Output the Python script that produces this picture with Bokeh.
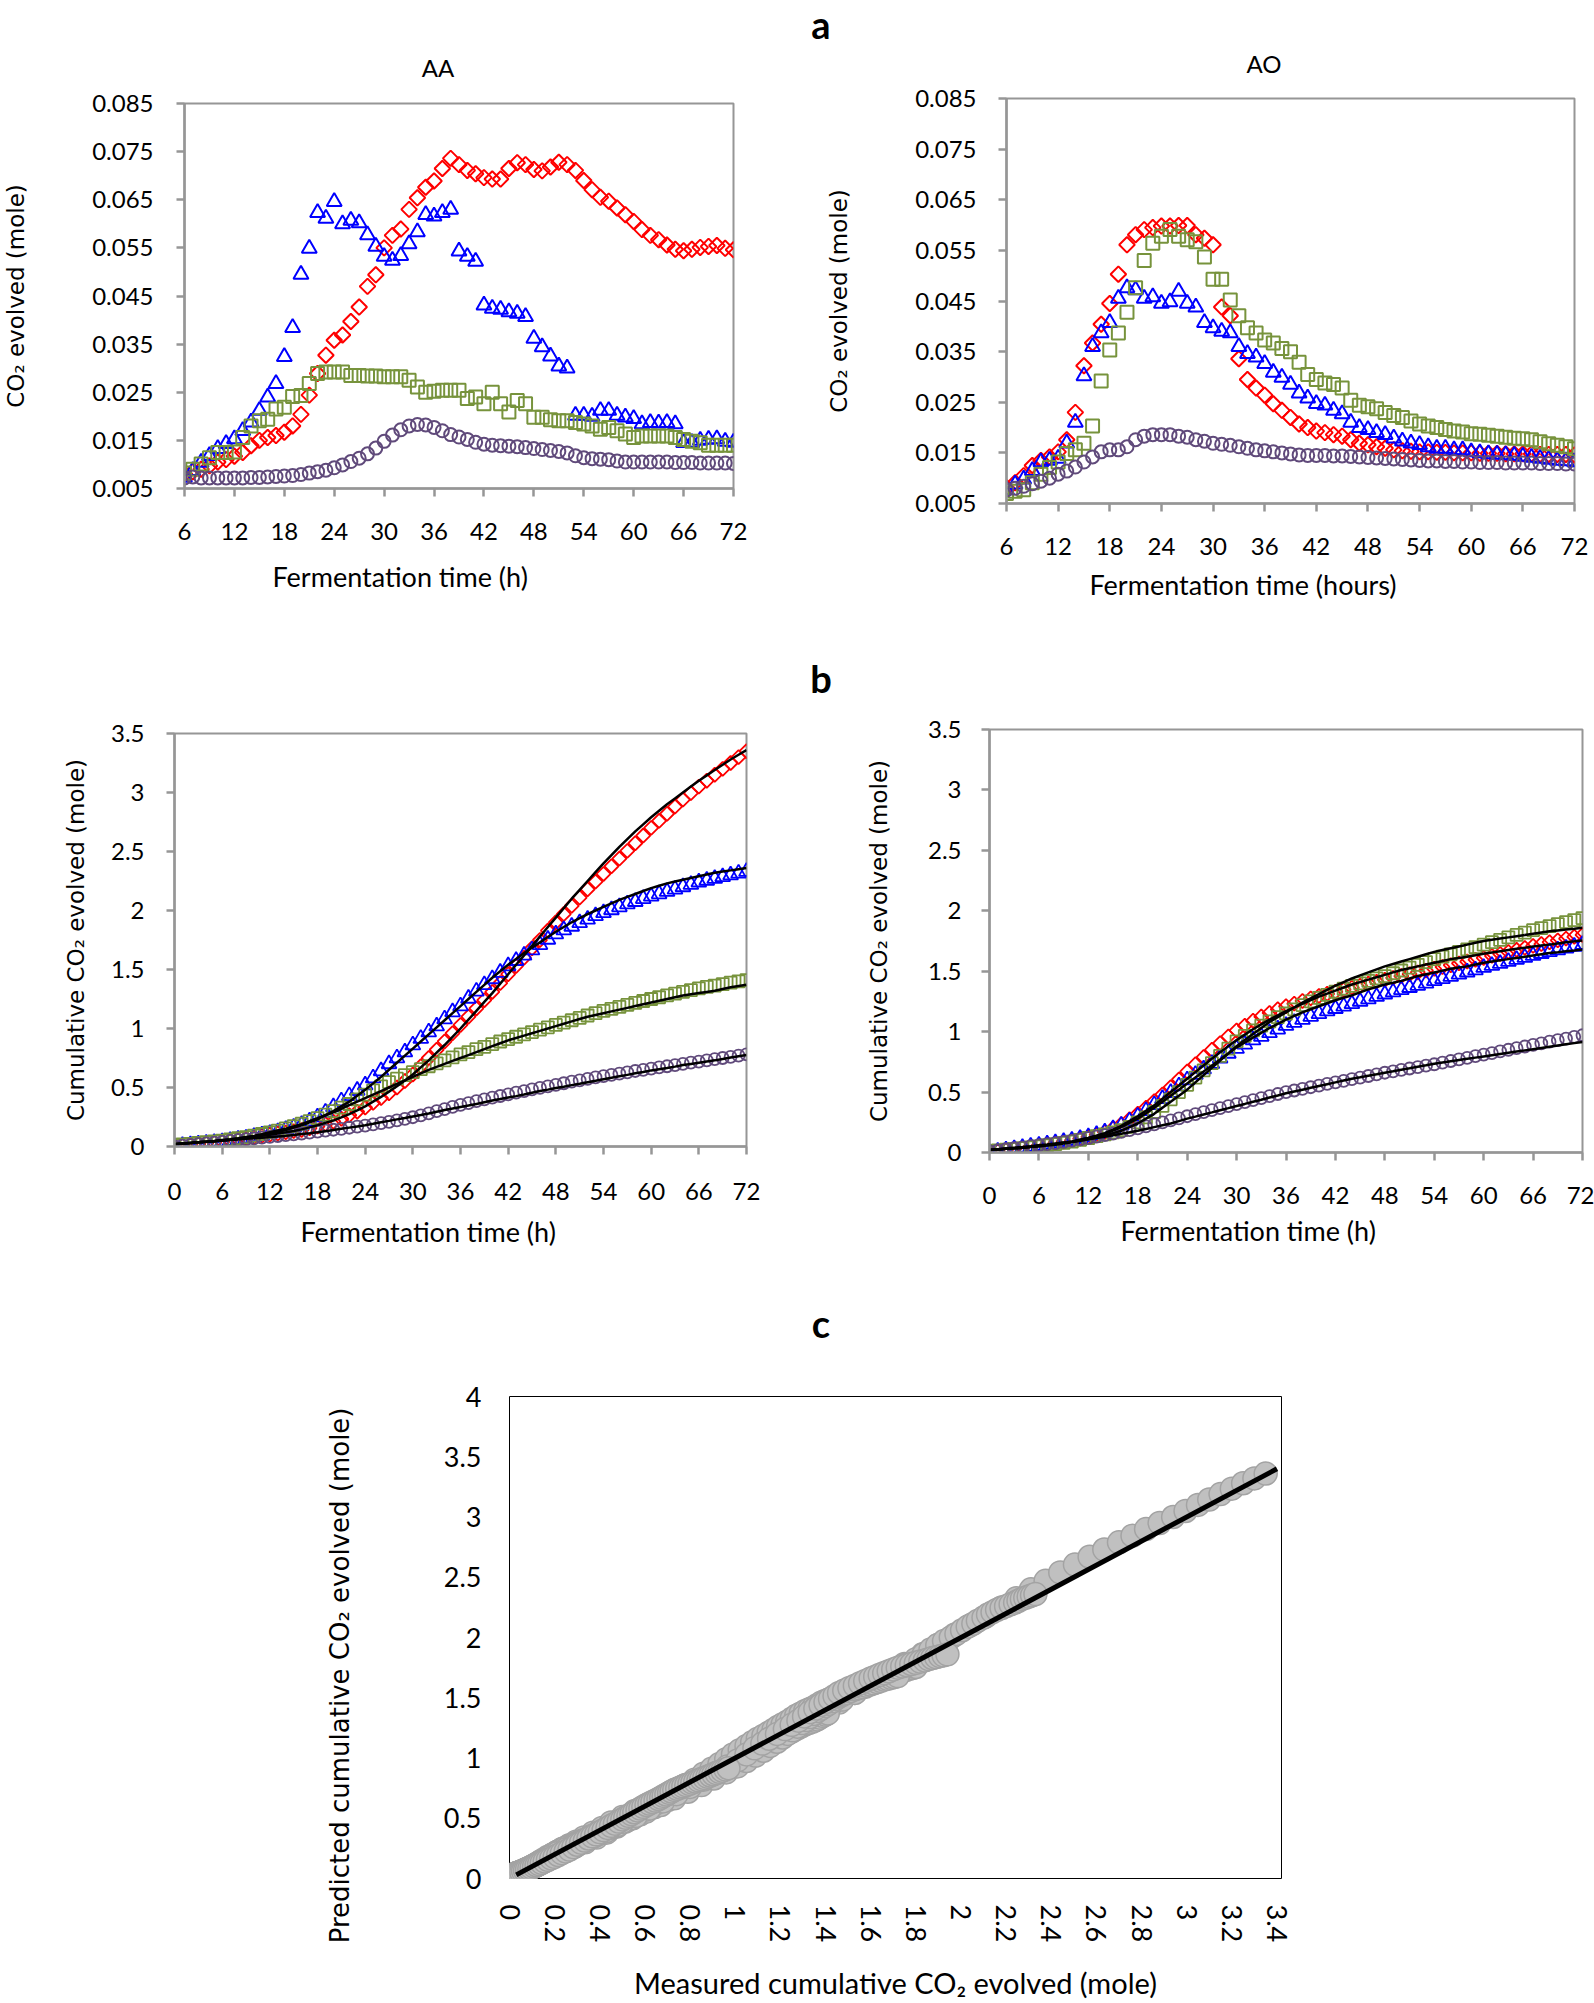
import math
from bokeh.plotting import figure
from bokeh.models import FixedTicker, PrintfTickFormatter, CustomJSTickFormatter, Div, Title
from bokeh.layouts import column, row
from bokeh.embed import file_html
from bokeh.resources import INLINE

# ---------------- data ----------------
hours_a = list(range(6, 73))          # panel a: hourly rates
hours_b = list(range(0, 73))          # panel b: hourly cumulative

a_x_ticks = [6, 12, 18, 24, 30, 36, 42, 48, 54, 60, 66, 72]
a_y_ticks = [0.005, 0.015, 0.025, 0.035, 0.045, 0.055, 0.065, 0.075, 0.085]
b_x_ticks = [0, 6, 12, 18, 24, 30, 36, 42, 48, 54, 60, 66, 72]
b_y_ticks = [0, 0.5, 1, 1.5, 2, 2.5, 3, 3.5]
c_x_ticks = [0, 0.2, 0.4, 0.6, 0.8, 1, 1.2, 1.4, 1.6, 1.8, 2, 2.2, 2.4, 2.6, 2.8, 3, 3.2, 3.4]
c_y_ticks = [0, 0.5, 1, 1.5, 2, 2.5, 3, 3.5, 4]

# a - AA (CO2 evolved, mole), hours 6..72
aa_red = [0.0080, 0.0085, 0.0090, 0.0097, 0.0105, 0.0110, 0.0117, 0.0125, 0.0139, 0.0150,
          0.0156, 0.0160, 0.0167, 0.0180, 0.0204, 0.0244, 0.0289, 0.0327, 0.0358, 0.0369,
          0.0397, 0.0427, 0.0470, 0.0494, 0.0550, 0.0576, 0.0589, 0.0630, 0.0654, 0.0676,
          0.0689, 0.0715, 0.0736, 0.0723, 0.0711, 0.0704, 0.0696, 0.0693, 0.0693, 0.0715,
          0.0727, 0.0723, 0.0713, 0.0710, 0.0718, 0.0728, 0.0723, 0.0711, 0.0690, 0.0671,
          0.0655, 0.0647, 0.0633, 0.0619, 0.0605, 0.0588, 0.0576, 0.0567, 0.0556, 0.0547,
          0.0544, 0.0547, 0.0551, 0.0553, 0.0555, 0.0549, 0.0546]
aa_blue = [0.0073, 0.0087, 0.0104, 0.0118, 0.0133, 0.0143, 0.0153, 0.0170, 0.0188, 0.0212,
           0.0240, 0.0268, 0.0324, 0.0384, 0.0495, 0.0549, 0.0623, 0.0611, 0.0646, 0.0600,
           0.0607, 0.0602, 0.0577, 0.0553, 0.0532, 0.0524, 0.0534, 0.0558, 0.0583, 0.0619,
           0.0616, 0.0623, 0.0630, 0.0543, 0.0532, 0.0522, 0.0431, 0.0424, 0.0422, 0.0417,
           0.0414, 0.0407, 0.0362, 0.0344, 0.0325, 0.0304, 0.0300, 0.0202, 0.0202, 0.0200,
           0.0212, 0.0212, 0.0202, 0.0198, 0.0195, 0.0184, 0.0187, 0.0186, 0.0187, 0.0184,
           0.0145, 0.0145, 0.0150, 0.0152, 0.0153, 0.0148, 0.0146]
aa_green = [0.0082, 0.0090, 0.0101, 0.0114, 0.0125, 0.0125, 0.0126, 0.0156, 0.0180, 0.0191,
            0.0194, 0.0215, 0.0219, 0.0241, 0.0243, 0.0268, 0.0289, 0.0292, 0.0292, 0.0292,
            0.0285, 0.0285, 0.0284, 0.0284, 0.0282, 0.0282, 0.0282, 0.0275, 0.0261, 0.0250,
            0.0252, 0.0254, 0.0254, 0.0254, 0.0237, 0.0240, 0.0226, 0.0250, 0.0226, 0.0209,
            0.0233, 0.0226, 0.0198, 0.0198, 0.0193, 0.0191, 0.0191, 0.0187, 0.0184, 0.0180,
            0.0173, 0.0177, 0.0170, 0.0163, 0.0156, 0.0159, 0.0159, 0.0159, 0.0159, 0.0156,
            0.0152, 0.0148, 0.0145, 0.0140, 0.0140, 0.0140, 0.0140]
aa_purple = [0.0072, 0.0074, 0.0072, 0.0072, 0.0072, 0.0072, 0.0072, 0.0072, 0.0073, 0.0073,
             0.0074, 0.0075, 0.0076, 0.0077, 0.0079, 0.0082, 0.0085, 0.0088, 0.0093, 0.0099,
             0.0106, 0.0113, 0.0122, 0.0134, 0.0148, 0.0161, 0.0172, 0.0180, 0.0183, 0.0182,
             0.0177, 0.0170, 0.0162, 0.0157, 0.0152, 0.0146, 0.0142, 0.0140, 0.0139, 0.0138,
             0.0137, 0.0135, 0.0133, 0.0131, 0.0129, 0.0127, 0.0124, 0.0118, 0.0114, 0.0112,
             0.0111, 0.0110, 0.0107, 0.0105, 0.0105, 0.0105, 0.0105, 0.0105, 0.0105, 0.0104,
             0.0104, 0.0104, 0.0103, 0.0103, 0.0103, 0.0103, 0.0102]

# a - AO
ao_red = [0.0081, 0.0091, 0.0105, 0.0125, 0.0135, 0.0142, 0.0152, 0.0176, 0.0230, 0.0322,
          0.0367, 0.0404, 0.0445, 0.0503, 0.0561, 0.0581, 0.0591, 0.0595, 0.0598, 0.0598,
          0.0599, 0.0599, 0.0581, 0.0574, 0.0561, 0.0438, 0.0421, 0.0336, 0.0295, 0.0278,
          0.0264, 0.0247, 0.0234, 0.0220, 0.0207, 0.0200, 0.0193, 0.0190, 0.0186, 0.0183,
          0.0176, 0.0169, 0.0166, 0.0162, 0.0159, 0.0156, 0.0154, 0.0153, 0.0152, 0.0152,
          0.0151, 0.0151, 0.0150, 0.0150, 0.0150, 0.0149, 0.0149, 0.0149, 0.0148, 0.0148,
          0.0148, 0.0148, 0.0147, 0.0147, 0.0147, 0.0147, 0.0146]
ao_blue = [0.0077, 0.0088, 0.0098, 0.0115, 0.0132, 0.0135, 0.0139, 0.0169, 0.0210, 0.0302,
           0.0360, 0.0387, 0.0407, 0.0455, 0.0476, 0.0472, 0.0455, 0.0458, 0.0445, 0.0448,
           0.0469, 0.0445, 0.0438, 0.0407, 0.0397, 0.0390, 0.0387, 0.0360, 0.0346, 0.0339,
           0.0326, 0.0309, 0.0299, 0.0285, 0.0268, 0.0258, 0.0247, 0.0244, 0.0234, 0.0227,
           0.0210, 0.0200, 0.0196, 0.0190, 0.0186, 0.0179, 0.0173, 0.0169, 0.0166, 0.0162,
           0.0159, 0.0159, 0.0156, 0.0156, 0.0152, 0.0150, 0.0148, 0.0147, 0.0146, 0.0145,
           0.0143, 0.0141, 0.0139, 0.0137, 0.0135, 0.0134, 0.0132]
ao_green = [0.0070, 0.0074, 0.0077, 0.0091, 0.0108, 0.0121, 0.0132, 0.0149, 0.0156, 0.0169,
            0.0203, 0.0292, 0.0353, 0.0387, 0.0428, 0.0476, 0.0530, 0.0564, 0.0578, 0.0591,
            0.0578, 0.0571, 0.0567, 0.0537, 0.0493, 0.0493, 0.0452, 0.0421, 0.0397, 0.0387,
            0.0373, 0.0367, 0.0356, 0.0350, 0.0329, 0.0305, 0.0295, 0.0288, 0.0285, 0.0278,
            0.0254, 0.0244, 0.0241, 0.0237, 0.0230, 0.0224, 0.0220, 0.0213, 0.0207, 0.0203,
            0.0200, 0.0196, 0.0193, 0.0191, 0.0188, 0.0187, 0.0185, 0.0183, 0.0181, 0.0179,
            0.0178, 0.0176, 0.0172, 0.0168, 0.0165, 0.0162, 0.0158]
ao_purple = [0.0077, 0.0080, 0.0084, 0.0089, 0.0094, 0.0100, 0.0108, 0.0114, 0.0122, 0.0132,
             0.0142, 0.0152, 0.0156, 0.0156, 0.0162, 0.0176, 0.0183, 0.0186, 0.0186, 0.0186,
             0.0183, 0.0181, 0.0176, 0.0173, 0.0169, 0.0167, 0.0165, 0.0162, 0.0159, 0.0156,
             0.0154, 0.0152, 0.0150, 0.0148, 0.0146, 0.0145, 0.0145, 0.0145, 0.0144, 0.0144,
             0.0143, 0.0142, 0.0141, 0.0140, 0.0139, 0.0138, 0.0137, 0.0136, 0.0135, 0.0134,
             0.0134, 0.0133, 0.0133, 0.0132, 0.0132, 0.0131, 0.0131, 0.0131, 0.0130, 0.0130,
             0.0130, 0.0130, 0.0129, 0.0129, 0.0129, 0.0128, 0.0128]

# b - left (AA) cumulative CO2 (measured), hours 0..72
bl_red = [0.000, 0.007, 0.013, 0.020, 0.027, 0.033, 0.040,
          0.050, 0.060, 0.070, 0.080, 0.090, 0.100,
          0.110, 0.120, 0.130, 0.140, 0.155, 0.170,
          0.190, 0.210, 0.235, 0.265, 0.295, 0.330,
          0.370, 0.410, 0.450, 0.500, 0.555, 0.610,
          0.680, 0.750, 0.820, 0.890, 0.960, 1.030,
          1.100, 1.170, 1.240, 1.310, 1.385, 1.460,
          1.530, 1.600, 1.680, 1.750, 1.830, 1.900,
          1.970, 2.040, 2.110, 2.180, 2.245, 2.310,
          2.375, 2.440, 2.505, 2.570, 2.635, 2.700,
          2.760, 2.820, 2.880, 2.940, 2.995, 3.050,
          3.100, 3.150, 3.200, 3.250, 3.300, 3.350]
bl_blue = [0.000, 0.007, 0.013, 0.020, 0.027, 0.033, 0.040,
           0.050, 0.060, 0.070, 0.083, 0.096, 0.110,
           0.125, 0.143, 0.163, 0.185, 0.215, 0.250,
           0.290, 0.335, 0.385, 0.430, 0.475, 0.520,
           0.580, 0.640, 0.700, 0.750, 0.800, 0.860,
           0.915, 0.970, 1.020, 1.080, 1.140, 1.190,
           1.255, 1.315, 1.370, 1.420, 1.475, 1.530,
           1.575, 1.620, 1.665, 1.710, 1.755, 1.800,
           1.835, 1.865, 1.895, 1.925, 1.955, 1.980,
           2.005, 2.030, 2.055, 2.075, 2.100, 2.120,
           2.140, 2.160, 2.180, 2.200, 2.220, 2.240,
           2.255, 2.270, 2.285, 2.300, 2.315, 2.330]
bl_green = [0.010, 0.017, 0.023, 0.030, 0.037, 0.043, 0.050,
            0.060, 0.070, 0.080, 0.093, 0.106, 0.120,
            0.135, 0.153, 0.172, 0.193, 0.215, 0.240,
            0.270, 0.300, 0.330, 0.360, 0.400, 0.440,
            0.475, 0.510, 0.545, 0.575, 0.605, 0.630,
            0.655, 0.680, 0.705, 0.730, 0.755, 0.780,
            0.800, 0.825, 0.845, 0.868, 0.890, 0.910,
            0.930, 0.950, 0.970, 0.990, 1.010, 1.030,
            1.050, 1.070, 1.090, 1.110, 1.130, 1.150,
            1.167, 1.183, 1.200, 1.217, 1.233, 1.250,
            1.265, 1.280, 1.295, 1.310, 1.325, 1.340,
            1.352, 1.364, 1.376, 1.388, 1.400, 1.410]
bl_purple = [0.000, 0.007, 0.013, 0.020, 0.027, 0.033, 0.040,
             0.047, 0.054, 0.061, 0.068, 0.075, 0.082,
             0.089, 0.096, 0.103, 0.110, 0.118, 0.126,
             0.134, 0.142, 0.150, 0.159, 0.168, 0.177,
             0.187, 0.198, 0.209, 0.221, 0.234, 0.248,
             0.264, 0.281, 0.299, 0.317, 0.335, 0.352,
             0.368, 0.384, 0.399, 0.414, 0.428, 0.442,
             0.456, 0.470, 0.484, 0.497, 0.510, 0.523,
             0.536, 0.549, 0.561, 0.573, 0.585, 0.596,
             0.607, 0.618, 0.629, 0.640, 0.650, 0.660,
             0.670, 0.680, 0.690, 0.700, 0.710, 0.720,
             0.730, 0.740, 0.750, 0.760, 0.770, 0.780]
# b - left model (predicted), hours 0..72
bl_red_fit = [0.020, 0.025, 0.030, 0.035, 0.040, 0.045, 0.050,
              0.057, 0.065, 0.072, 0.080, 0.090, 0.100,
              0.110, 0.120, 0.132, 0.145, 0.162, 0.180,
              0.200, 0.220, 0.247, 0.275, 0.306, 0.340,
              0.380, 0.420, 0.465, 0.510, 0.560, 0.610,
              0.670, 0.730, 0.795, 0.860, 0.930, 1.000,
              1.075, 1.150, 1.225, 1.300, 1.380, 1.460,
              1.540, 1.620, 1.700, 1.780, 1.860, 1.940,
              2.020, 2.100, 2.175, 2.250, 2.325, 2.400,
              2.470, 2.540, 2.605, 2.670, 2.730, 2.790,
              2.845, 2.900, 2.950, 3.000, 3.050, 3.100,
              3.145, 3.190, 3.235, 3.280, 3.320, 3.360]
bl_blue_fit = [0.020, 0.025, 0.030, 0.035, 0.040, 0.045, 0.050,
               0.057, 0.065, 0.075, 0.085, 0.097, 0.110,
               0.125, 0.140, 0.160, 0.180, 0.205, 0.230,
               0.265, 0.300, 0.340, 0.380, 0.430, 0.480,
               0.535, 0.590, 0.650, 0.710, 0.770, 0.830,
               0.890, 0.950, 1.010, 1.070, 1.130, 1.190,
               1.250, 1.310, 1.370, 1.430, 1.485, 1.540,
               1.590, 1.640, 1.685, 1.730, 1.775, 1.820,
               1.860, 1.900, 1.935, 1.970, 2.000, 2.030,
               2.060, 2.090, 2.115, 2.140, 2.165, 2.190,
               2.210, 2.230, 2.245, 2.260, 2.275, 2.290,
               2.305, 2.320, 2.330, 2.340, 2.350, 2.360]
bl_green_fit = [0.020, 0.025, 0.030, 0.035, 0.040, 0.047, 0.055,
                0.062, 0.070, 0.080, 0.090, 0.105, 0.120,
                0.135, 0.150, 0.170, 0.190, 0.215, 0.240,
                0.265, 0.290, 0.320, 0.350, 0.380, 0.410,
                0.440, 0.470, 0.500, 0.530, 0.560, 0.590,
                0.620, 0.650, 0.675, 0.700, 0.725, 0.750,
                0.775, 0.800, 0.825, 0.850, 0.875, 0.900,
                0.920, 0.940, 0.960, 0.980, 1.000, 1.020,
                1.040, 1.060, 1.080, 1.100, 1.115, 1.130,
                1.145, 1.160, 1.175, 1.190, 1.205, 1.220,
                1.235, 1.250, 1.265, 1.280, 1.290, 1.300,
                1.310, 1.320, 1.335, 1.350, 1.360, 1.370]
bl_purple_fit = [0.020, 0.025, 0.030, 0.035, 0.040, 0.045, 0.050,
                 0.055, 0.060, 0.065, 0.070, 0.075, 0.080,
                 0.085, 0.090, 0.097, 0.105, 0.112, 0.120,
                 0.130, 0.140, 0.150, 0.160, 0.170, 0.180,
                 0.192, 0.205, 0.217, 0.230, 0.242, 0.255,
                 0.267, 0.280, 0.295, 0.310, 0.322, 0.335,
                 0.347, 0.360, 0.375, 0.390, 0.402, 0.415,
                 0.427, 0.440, 0.455, 0.470, 0.482, 0.495,
                 0.507, 0.520, 0.532, 0.545, 0.557, 0.570,
                 0.582, 0.595, 0.607, 0.620, 0.632, 0.645,
                 0.655, 0.665, 0.677, 0.690, 0.700, 0.710,
                 0.720, 0.730, 0.742, 0.755, 0.765, 0.775]

# b - right (AO) measured
br_red = [0.000, 0.010, 0.020, 0.030, 0.040, 0.050, 0.060,
          0.070, 0.080, 0.090, 0.100, 0.115, 0.130,
          0.148, 0.170, 0.200, 0.235, 0.275, 0.320,
          0.370, 0.425, 0.480, 0.540, 0.605, 0.670,
          0.730, 0.790, 0.850, 0.905, 0.960, 1.010,
          1.050, 1.090, 1.125, 1.155, 1.185, 1.210,
          1.232, 1.254, 1.275, 1.295, 1.313, 1.330,
          1.347, 1.364, 1.381, 1.398, 1.414, 1.430,
          1.445, 1.460, 1.475, 1.490, 1.505, 1.520,
          1.535, 1.550, 1.565, 1.580, 1.595, 1.610,
          1.627, 1.643, 1.660, 1.677, 1.693, 1.710,
          1.725, 1.740, 1.755, 1.770, 1.785, 1.800]
br_blue = [0.000, 0.010, 0.020, 0.030, 0.040, 0.050, 0.060,
           0.070, 0.080, 0.090, 0.100, 0.115, 0.130,
           0.147, 0.168, 0.195, 0.225, 0.260, 0.300,
           0.345, 0.395, 0.445, 0.495, 0.550, 0.600,
           0.645, 0.690, 0.735, 0.780, 0.820, 0.860,
           0.895, 0.930, 0.960, 0.990, 1.020, 1.050,
           1.075, 1.100, 1.125, 1.148, 1.170, 1.190,
           1.210, 1.230, 1.250, 1.270, 1.290, 1.310,
           1.328, 1.346, 1.364, 1.382, 1.400, 1.420,
           1.438, 1.456, 1.474, 1.492, 1.510, 1.530,
           1.547, 1.563, 1.580, 1.597, 1.613, 1.630,
           1.645, 1.660, 1.675, 1.690, 1.705, 1.720]
br_green = [0.010, 0.017, 0.023, 0.030, 0.037, 0.043, 0.050,
            0.060, 0.070, 0.080, 0.090, 0.105, 0.120,
            0.135, 0.150, 0.167, 0.185, 0.212, 0.250,
            0.290, 0.335, 0.385, 0.440, 0.500, 0.560,
            0.620, 0.680, 0.740, 0.800, 0.860, 0.920,
            0.965, 1.010, 1.050, 1.085, 1.120, 1.150,
            1.185, 1.220, 1.250, 1.280, 1.305, 1.330,
            1.355, 1.378, 1.400, 1.420, 1.440, 1.460,
            1.483, 1.506, 1.530, 1.553, 1.576, 1.600,
            1.620, 1.640, 1.660, 1.680, 1.700, 1.720,
            1.740, 1.760, 1.780, 1.800, 1.820, 1.840,
            1.857, 1.873, 1.890, 1.907, 1.923, 1.940]
br_purple = [0.010, 0.018, 0.027, 0.035, 0.043, 0.052, 0.060,
             0.069, 0.078, 0.088, 0.098, 0.109, 0.120,
             0.131, 0.143, 0.156, 0.170, 0.185, 0.200,
             0.216, 0.232, 0.249, 0.266, 0.283, 0.300,
             0.317, 0.334, 0.350, 0.367, 0.384, 0.400,
             0.417, 0.434, 0.450, 0.467, 0.484, 0.500,
             0.513, 0.527, 0.540, 0.553, 0.567, 0.580,
             0.593, 0.607, 0.620, 0.633, 0.647, 0.660,
             0.672, 0.683, 0.695, 0.707, 0.718, 0.730,
             0.743, 0.757, 0.770, 0.783, 0.797, 0.810,
             0.823, 0.837, 0.850, 0.863, 0.877, 0.890,
             0.903, 0.917, 0.930, 0.943, 0.957, 0.970]
# b - right model (predicted)
br_red_fit = [0.020, 0.025, 0.030, 0.035, 0.040, 0.047, 0.055,
              0.062, 0.070, 0.080, 0.090, 0.105, 0.120,
              0.140, 0.160, 0.190, 0.220, 0.260, 0.300,
              0.345, 0.390, 0.445, 0.500, 0.555, 0.610,
              0.665, 0.720, 0.775, 0.830, 0.880, 0.930,
              0.975, 1.020, 1.060, 1.100, 1.135, 1.170,
              1.200, 1.230, 1.260, 1.290, 1.315, 1.340,
              1.365, 1.390, 1.410, 1.430, 1.450, 1.470,
              1.490, 1.510, 1.525, 1.540, 1.555, 1.570,
              1.585, 1.600, 1.610, 1.620, 1.632, 1.645,
              1.655, 1.665, 1.675, 1.685, 1.695, 1.705,
              1.712, 1.720, 1.730, 1.740, 1.747, 1.755]
br_blue_fit = [0.020, 0.025, 0.030, 0.035, 0.040, 0.047, 0.055,
               0.062, 0.070, 0.080, 0.090, 0.105, 0.120,
               0.137, 0.155, 0.182, 0.210, 0.245, 0.280,
               0.325, 0.370, 0.420, 0.470, 0.520, 0.570,
               0.620, 0.670, 0.720, 0.770, 0.820, 0.870,
               0.910, 0.950, 0.990, 1.030, 1.065, 1.100,
               1.130, 1.160, 1.185, 1.210, 1.235, 1.260,
               1.280, 1.300, 1.325, 1.350, 1.370, 1.390,
               1.405, 1.420, 1.440, 1.460, 1.475, 1.490,
               1.505, 1.520, 1.530, 1.540, 1.555, 1.570,
               1.580, 1.590, 1.600, 1.610, 1.620, 1.630,
               1.640, 1.650, 1.657, 1.665, 1.672, 1.680]
br_green_fit = [0.020, 0.025, 0.030, 0.035, 0.040, 0.045, 0.050,
                0.057, 0.065, 0.075, 0.085, 0.097, 0.110,
                0.125, 0.140, 0.160, 0.180, 0.210, 0.240,
                0.280, 0.320, 0.370, 0.420, 0.470, 0.520,
                0.580, 0.640, 0.700, 0.760, 0.820, 0.880,
                0.930, 0.980, 1.030, 1.080, 1.120, 1.160,
                1.200, 1.240, 1.275, 1.310, 1.345, 1.380,
                1.410, 1.440, 1.465, 1.490, 1.515, 1.540,
                1.560, 1.580, 1.600, 1.620, 1.640, 1.660,
                1.675, 1.690, 1.705, 1.720, 1.735, 1.750,
                1.760, 1.770, 1.780, 1.790, 1.800, 1.810,
                1.820, 1.830, 1.837, 1.845, 1.852, 1.860]
br_purple_fit = [0.020, 0.027, 0.035, 0.040, 0.045, 0.052, 0.060,
                 0.067, 0.075, 0.082, 0.090, 0.100, 0.110,
                 0.120, 0.130, 0.142, 0.155, 0.167, 0.180,
                 0.195, 0.210, 0.225, 0.240, 0.260, 0.280,
                 0.297, 0.315, 0.332, 0.350, 0.367, 0.385,
                 0.402, 0.420, 0.437, 0.455, 0.472, 0.490,
                 0.505, 0.520, 0.535, 0.550, 0.565, 0.580,
                 0.595, 0.610, 0.622, 0.635, 0.647, 0.660,
                 0.672, 0.685, 0.697, 0.710, 0.722, 0.735,
                 0.745, 0.755, 0.765, 0.775, 0.785, 0.795,
                 0.805, 0.815, 0.825, 0.835, 0.845, 0.855,
                 0.865, 0.875, 0.885, 0.895, 0.905, 0.915]

# c - linear trend of predicted vs measured
c_trend_x = [0.03, 3.40]
c_trend_y = [0.03, 3.40]

# ---------------- styling ----------------
RED, BLUE, GREEN, PURPLE = "#FF0000", "#0000FF", "#77933C", "#604A7B"
GREY = "#969696"
NUM_FONT = "Lato"
YT_FONT = "DejaVu Sans"
W = 1594


def base_fig(w, h, lb, rb, tb, bb, xr, yr):
    p = figure(width=w, height=h, x_range=xr, y_range=yr, output_backend="svg",
               toolbar_location=None, min_border_left=lb, min_border_right=rb,
               min_border_top=tb, min_border_bottom=bb)
    p.grid.visible = False
    p.background_fill_color = "white"
    p.border_fill_color = "white"
    return p


def x_title(p, text, offset, standoff, size=27):
    p.add_layout(Title(text=text, align="left", offset=offset, standoff=standoff,
                       vertical_align="top", text_font=NUM_FONT,
                       text_font_size=f"{size}px", text_font_style="normal",
                       text_color="black"), "below")


def style_ab(p, xticks, yticks, yfmt, xstand, ystand, ylabel, ylab_stand):
    for ax in (p.xaxis[0], p.yaxis[0]):
        ax.axis_line_color = GREY
        ax.axis_line_width = 2.5
        ax.major_tick_line_color = GREY
        ax.major_tick_line_width = 2.5
        ax.major_tick_out = 8
        ax.major_tick_in = 0
        ax.minor_tick_line_color = None
        ax.major_label_text_font = NUM_FONT
        ax.major_label_text_font_size = "24px"
        ax.major_label_text_color = "black"
    p.xaxis.ticker = FixedTicker(ticks=xticks)
    p.yaxis.ticker = FixedTicker(ticks=yticks)
    p.xaxis.formatter = CustomJSTickFormatter(code="return String(tick);")
    p.yaxis.formatter = yfmt
    p.xaxis.major_label_standoff = xstand
    p.yaxis.major_label_standoff = ystand
    p.yaxis.axis_label = ylabel
    p.yaxis.axis_label_text_font = YT_FONT
    p.yaxis.axis_label_text_font_size = "23px"
    p.yaxis.axis_label_text_font_style = "normal"
    p.yaxis.axis_label_text_color = "black"
    p.yaxis.axis_label_standoff = ylab_stand
    p.outline_line_color = GREY
    p.outline_line_width = 2
    p.outline_line_alpha = 1.0


def markers(p, x, red, blue, green, purple, dsize, tsize, ssize, csize, lw):
    p.scatter(x, red, marker="square", angle=math.pi / 4, size=dsize, fill_color=None,
              line_color=RED, line_width=lw)
    p.scatter(x, blue, marker="triangle", size=tsize, fill_color=None,
              line_color=BLUE, line_width=lw)
    p.scatter(x, green, marker="square", size=ssize, fill_color=None,
              line_color=GREEN, line_width=lw)
    p.scatter(x, purple, marker="circle", size=csize, fill_color=None,
              line_color=PURPLE, line_width=lw)


def text_div(h, items):
    parts = []
    for t, cx, cy, size, weight, lh in items:
        parts.append(
            f'<div style="position:absolute;left:{cx - 300}px;top:{cy - lh / 2}px;width:600px;'
            f'height:{lh}px;line-height:{lh}px;text-align:center;font-family:Lato;'
            f'font-size:{size}px;font-weight:{weight};color:black;white-space:nowrap">{t}</div>')
    html = f'<div style="position:relative;width:{W}px;height:{h}px">{"".join(parts)}</div>'
    return Div(text=html, width=W, height=h, margin=(0, 0, 0, 0))


# ---------- row 0: letter a + panel titles (page y 0..84) ----------
div_a = text_div(84, [("a", 821, 24, 38, "bold", 46), ("AA", 438, 68, 24, "normal", 30),
                      ("AO", 1264, 64, 24, "normal", 30)])

# ---------- row 1: panel a (page y 84..640) ----------
p_aa = base_fig(800, 556, 183, 67, 19, 152, (6, 72), (0.005, 0.085))
style_ab(p_aa, a_x_ticks, a_y_ticks, PrintfTickFormatter(format="%.3f"), 26, 23,
         "CO\u2082 evolved (mole)", 60)
markers(p_aa, hours_a, aa_red, aa_blue, aa_green, aa_purple, 11, 15, 13, 13, 2)
x_title(p_aa, "Fermentation time (h)", 88, 35)

p_ao = base_fig(794, 556, 206, 20, 14, 137, (6, 72), (0.005, 0.085))
style_ab(p_ao, a_x_ticks, a_y_ticks, PrintfTickFormatter(format="%.3f"), 26, 22,
         "CO\u2082 evolved (mole)", 60)
markers(p_ao, hours_a, ao_red, ao_blue, ao_green, ao_purple, 11, 15, 13, 13, 2)
x_title(p_ao, "Fermentation time (hours)", 83, 20)

# ---------- row 2: letter b (page y 640..704) ----------
div_b = text_div(64, [("b", 821, 38, 38, "bold", 46)])

# ---------- row 3: panel b (page y 704..1290) ----------
p_bl = base_fig(800, 586, 174, 54, 29, 144, (0, 72), (0, 3.5))
style_ab(p_bl, b_x_ticks, b_y_ticks, CustomJSTickFormatter(code="return String(tick);"),
         28, 22, "Cumulative CO\u2082 evolved (mole)", 19)
markers(p_bl, hours_b, bl_red, bl_blue, bl_green, bl_purple, 10, 15, 12, 12, 1.8)
for fit in (bl_red_fit, bl_blue_fit, bl_green_fit, bl_purple_fit):
    p_bl.line(hours_b, fit, line_color="black", line_width=2.5)
x_title(p_bl, "Fermentation time (h)", 126, 25)

p_br = base_fig(794, 586, 189, 12, 25, 138, (0, 72), (0, 3.5))
style_ab(p_br, b_x_ticks, b_y_ticks, CustomJSTickFormatter(code="return String(tick);"),
         26, 20, "Cumulative CO\u2082 evolved (mole)", 33)
markers(p_br, hours_b, br_red, br_blue, br_green, br_purple, 10, 15, 12, 12, 1.8)
for fit in (br_red_fit, br_blue_fit, br_green_fit, br_purple_fit):
    p_br.line(hours_b, fit, line_color="black", line_width=2.5)
x_title(p_br, "Fermentation time (h)", 131, 15)

# ---------- row 4: letter c (page y 1290..1349) ----------
div_c = text_div(59, [("c", 821, 33, 38, "bold", 46)])

# ---------- row 5: panel c (page y 1349..2003) ----------
c_meas, c_pred = [], []
for meas, fit in ((bl_red, bl_red_fit), (bl_blue, bl_blue_fit), (bl_green, bl_green_fit),
                  (bl_purple, bl_purple_fit), (br_red, br_red_fit), (br_blue, br_blue_fit),
                  (br_green, br_green_fit), (br_purple, br_purple_fit)):
    c_meas += meas
    c_pred += fit

p_c = base_fig(W, 654, 509, 313, 47, 122, (0, 3.42), (0, 4))
for ax in (p_c.xaxis[0], p_c.yaxis[0]):
    ax.axis_line_color = None
    ax.major_tick_line_color = None
    ax.minor_tick_line_color = None
    ax.major_tick_out = 0
    ax.major_tick_in = 0
    ax.major_label_text_font = NUM_FONT
    ax.major_label_text_font_size = "27px"
    ax.major_label_text_color = "black"
p_c.xaxis.ticker = FixedTicker(ticks=c_x_ticks)
p_c.yaxis.ticker = FixedTicker(ticks=c_y_ticks)
p_c.xaxis.formatter = CustomJSTickFormatter(code="return String(tick);")
p_c.yaxis.formatter = CustomJSTickFormatter(code="return String(tick);")
p_c.xaxis.major_label_orientation = -math.pi / 2
p_c.xaxis.major_label_standoff = 26
p_c.yaxis.major_label_standoff = 28
p_c.xaxis.axis_label = "Measured cumulative CO\u2082 evolved (mole)"
p_c.xaxis.axis_label_text_font = NUM_FONT
p_c.xaxis.axis_label_text_font_size = "29px"
p_c.xaxis.axis_label_text_font_style = "normal"
p_c.xaxis.axis_label_text_color = "black"
p_c.xaxis.axis_label_standoff = 20
p_c.add_layout(Title(text="Predicted cumulative CO\u2082 evolved (mole)", align="right",
                     offset=11, standoff=167, vertical_align="top", text_font=YT_FONT,
                     text_font_size="26px", text_font_style="normal", text_color="black"),
               "left")
p_c.outline_line_color = "black"
p_c.outline_line_width = 1
p_c.scatter(c_meas, c_pred, marker="circle", size=23, fill_color="#C0C0C0",
            line_color="#A3A3A3", line_width=1.5)
p_c.line(c_trend_x, c_trend_y, line_color="black", line_width=5)

layout = column(div_a, row(column(p_aa), column(p_ao)), div_b,
                row(column(p_bl), column(p_br)), div_c, p_c)

open("out.html", "w").write(file_html(layout, INLINE))
